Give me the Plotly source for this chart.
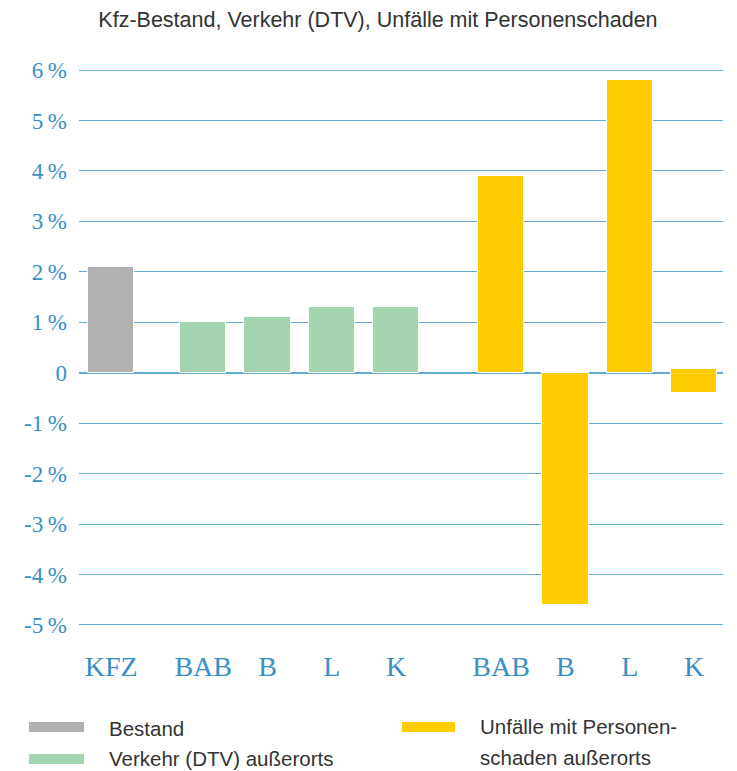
import plotly.graph_objects as go

# ---- data ----
categories = ["KFZ", "BAB", "B", "L", "K", "BAB", "B", "L", "K"]
groups = ["Bestand", "Verkehr", "Verkehr", "Verkehr", "Verkehr",
          "Unfall", "Unfall", "Unfall", "Unfall"]
values = [2.1, 1.0, 1.1, 1.3, 1.3, 3.9, -4.6, 5.8, -0.4]
bases = [0, 0, 0, 0, 0, 0, 0, 0, 0.08]
ytick_vals = [6, 5, 4, 3, 2, 1, 0, -1, -2, -3, -4, -5]
ytick_text = ["6\u2009%", "5\u2009%", "4\u2009%", "3\u2009%", "2\u2009%", "1\u2009%", "0",
              "-1\u2009%", "-2\u2009%", "-3\u2009%", "-4\u2009%", "-5\u2009%"]
title_text = "Kfz-Bestand, Verkehr (DTV), Unfälle mit Personenschaden"
legend_labels = {
    "Bestand": ["Bestand"],
    "Verkehr": ["Verkehr (DTV) außerorts"],
    "Unfall": ["Unfälle mit Personen-", "schaden außerorts"],
}
legend_colors = {"Bestand": "#b1b1b1", "Verkehr": "#a5d4b1", "Unfall": "#ffcc00"}

# ---- layout helpers ----
group_gap = {"Bestand": 0.0, "Verkehr": 0.43, "Unfall": 0.63 + 0.43}
xpos = [i + group_gap[g] for i, g in enumerate(groups)]
colors = [legend_colors[g] for g in groups]
heights = [v - b for v, b in zip(values, bases)]

blue_text = "#3a8fc6"
grid_col = "#62acd4"
sans = "Liberation Sans, Arial, sans-serif"
serif = "Liberation Serif, Times New Roman, serif"

fig = go.Figure()
fig.add_trace(go.Bar(
    x=xpos, y=heights, base=bases,
    marker=dict(color=colors, line=dict(color="white", width=1)),
    width=0.72, showlegend=False, hoverinfo="skip",
))

# page has an 8px body margin; plot area at page x 79..723, y 65..630
fig.update_layout(
    width=729, height=763,
    margin=dict(l=71, r=14, t=57, b=141),
    paper_bgcolor="white", plot_bgcolor="white",
    title=dict(text=title_text, x=0.5075, xanchor="center", y=0.985, yanchor="middle",
               font=dict(family=sans, size=21.5, color="#333333")),
    bargap=0,
    xaxis=dict(range=[-0.5, 9.51], tickvals=xpos, ticktext=categories,
               showgrid=False, zeroline=False, showline=False, ticks="",
               tickfont=dict(family=serif, size=28, color=blue_text),
               ticklabelstandoff=17),
    yaxis=dict(range=[-5.1, 6.1], tickvals=ytick_vals, ticktext=ytick_text,
               showgrid=True, gridcolor=grid_col, gridwidth=1.3,
               zeroline=True, zerolinecolor=grid_col, zerolinewidth=2,
               showline=False, ticks="",
               tickfont=dict(family=serif, size=23, color=blue_text),
               ticklabelstandoff=11),
)

# ---- custom legend ----
W, H_ = 644.0, 565.0
def px_x(p):
    return (p - 79) / W
def px_y(p):
    return (630 - p) / H_

leg_pos = [
    ("Bestand", 29, 84, 727, 107, [728]),
    ("Verkehr", 29, 84, 759, 107, [758]),
    ("Unfall", 402, 455, 727, 478, [726, 757]),
]
for key, x0, x1, yc, tx, text_ys in leg_pos:
    fig.add_shape(type="rect", xref="paper", yref="paper",
                  x0=px_x(x0), x1=px_x(x1), y0=px_y(yc + 5), y1=px_y(yc - 5),
                  fillcolor=legend_colors[key], line=dict(width=0))
    for line, ty in zip(legend_labels[key], text_ys):
        fig.add_annotation(xref="paper", yref="paper", x=px_x(tx), y=px_y(ty),
                           xanchor="left", yanchor="middle", showarrow=False, align="left",
                           text=line, font=dict(family=sans, size=20.5, color="#333333"))

fig.write_html("out.html")
